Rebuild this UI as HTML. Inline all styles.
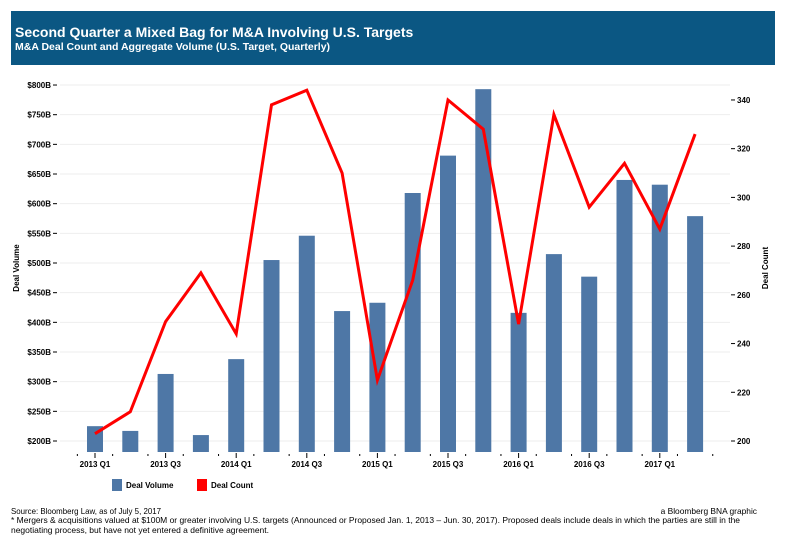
<!DOCTYPE html>
<html><head><meta charset="utf-8"><style>
body{margin:0;background:#fff;font-family:"Liberation Sans",Arial,sans-serif}
svg text{font-family:"Liberation Sans",Arial,sans-serif}
</style></head><body>
<svg id="chart" width="785" height="540" xmlns="http://www.w3.org/2000/svg">
<rect x="11" y="11" width="764" height="54" fill="#0b5783"/>
<text x="15" y="37" fill="#fff" font-size="14" font-weight="bold">Second Quarter a Mixed Bag for M&amp;A Involving U.S. Targets</text>
<text x="15" y="50" fill="#fff" font-size="10.5" font-weight="bold">M&amp;A Deal Count and Aggregate Volume (U.S. Target, Quarterly)</text>
<g id="grid"></g><g id="bars"></g><g id="line"></g><g id="axes"></g>
<text transform="translate(19,268) rotate(-90)" text-anchor="middle" font-size="8" font-weight="bold">Deal Volume</text>
<text transform="translate(768,268) rotate(-90)" text-anchor="middle" font-size="8" font-weight="bold">Deal Count</text>
<g>
<rect x="112" y="479" width="10" height="12" fill="#4e77a6"/>
<text x="126" y="488" font-size="8" font-weight="bold">Deal Volume</text>
<rect x="197" y="479" width="10" height="12" fill="#f00"/>
<text x="211" y="488" font-size="8" font-weight="bold">Deal Count</text>
</g>
<text x="11" y="514" font-size="8.4" textLength="150" lengthAdjust="spacingAndGlyphs">Source: Bloomberg Law, as of July 5, 2017</text>
<text x="757" y="514" font-size="8.4" text-anchor="end">a Bloomberg BNA graphic</text>
<text x="11" y="523" font-size="8.4" textLength="729" lengthAdjust="spacingAndGlyphs">* Mergers &amp; acquisitions valued at $100M or greater involving U.S. targets (Announced or Proposed Jan. 1, 2013 – Jun. 30, 2017). Proposed deals include deals in which the parties are still in the</text>
<text x="11" y="533" font-size="8.4" textLength="258" lengthAdjust="spacingAndGlyphs">negotiating process, but have not yet entered a definitive agreement.</text>
</svg>
<script>
const categories=["2013 Q1","2013 Q2","2013 Q3","2013 Q4","2014 Q1","2014 Q2","2014 Q3","2014 Q4","2015 Q1","2015 Q2","2015 Q3","2015 Q4","2016 Q1","2016 Q2","2016 Q3","2016 Q4","2017 Q1","2017 Q2"];
const dealVolume=[225,217,313,210,338,505,546,419,433,618,681,793,416,515,477,640,632,579];
const dealCount=[203,212,249,269,244,338,344,310,225,266,340,328,248,334,296,314,287,326];
const volumeTicks=[200,250,300,350,400,450,500,550,600,650,700,750,800];
const countTicks=[200,220,240,260,280,300,320,340];
const NS="http://www.w3.org/2000/svg";
function mk(t,a,p){const e=document.createElementNS(NS,t);for(const k in a)e.setAttribute(k,a[k]);p.appendChild(e);return e;}
const yV=v=>441-(v-200)*0.5933;
const yC=c=>441-(c-200)*2.436;
const xQ=i=>95+i*35.3;
const base=452;
const grid=document.getElementById('grid'),bars=document.getElementById('bars'),line=document.getElementById('line'),axes=document.getElementById('axes');
volumeTicks.forEach(v=>{
  const g=mk('line',{x1:60,x2:730,y1:yV(v),y2:yV(v),stroke:'#eeeeee','stroke-width':1},grid);
  
  
  const t=mk('line',{x1:53,x2:57,y1:yV(v),y2:yV(v),stroke:'#000','stroke-width':1},axes);
  
  
  const l=mk('text',{x:51,y:yV(v)+3,'text-anchor':'end','font-size':8,'font-weight':'bold'},axes);
  l.textContent='$'+v+'B';
  
  
});
countTicks.forEach(c=>{
  const t=mk('line',{x1:731,x2:735,y1:yC(c),y2:yC(c),stroke:'#000','stroke-width':1},axes);
  
  
  const l=mk('text',{x:737,y:yC(c)+3,'font-size':8,'font-weight':'bold'},axes);
  l.textContent=c;
  
  
});
dealVolume.forEach((v,i)=>{
  const b=mk('rect',{x:xQ(i)-8,y:yV(v),width:16,height:base-yV(v),fill:'#4e77a6'},bars);
  
  
});
for(let i=0;i<=categories.length;i++){
  const x=xQ(i)-17.65;
  const t=mk('line',{x1:x,x2:x,y1:base+2,y2:base+4,stroke:'#000'},axes);
  
  
}
categories.forEach((c,i)=>{
  if(i%2)return;
  const t=mk('line',{x1:xQ(i),x2:xQ(i),y1:base+1,y2:base+6,stroke:'#000'},axes);
  
  
  const l=mk('text',{x:xQ(i),y:base+15,'text-anchor':'middle','font-size':8,'font-weight':'bold'},axes);
  l.textContent=c;
  
  
});
const p=mk('polyline',{points:dealCount.map((c,i)=>xQ(i)+','+yC(c)).join(' '),fill:'none',stroke:'#f00','stroke-width':3,'stroke-linejoin':'miter'},line);


</script>
</body></html>
